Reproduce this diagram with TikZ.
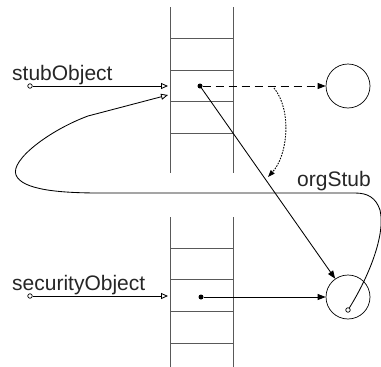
\documentclass[tikz,border=0pt]{standalone}
\usepackage{fontspec}
\setmainfont{Liberation Sans}
\usetikzlibrary{arrows.meta}
\begin{document}
\begin{tikzpicture}[x=1pt,y=-1pt,
  lbl/.style={font=\fontsize{21}{25}\selectfont, inner sep=0pt, anchor=base west, text=black!85},
  stackline/.style={draw=black!65, line width=0.7pt},
  conn/.style={line width=0.85pt},
  openarr/.style={conn, -{Triangle[open,length=7pt,width=6pt]}},
  fillarr/.style={conn, -{Triangle[length=8pt,width=6pt]}},
  port/.style={circle, draw, fill=white, inner sep=0pt, minimum size=4.5pt, line width=0.7pt},
  dotn/.style={circle, fill, inner sep=0pt, minimum size=5pt},
  obj/.style={circle, draw, minimum size=44pt, inner sep=0pt, line width=0.7pt}]
\useasboundingbox (0,0) rectangle (381,367);

% stacks
\foreach \y in {38,70,101,133} \draw[stackline] (170,\y) -- (233,\y);
\draw[stackline] (170,7) -- (170,173);
\draw[stackline] (233,7) -- (233,173);
\foreach \y in {248,279,311,343} \draw[stackline] (170,\y) -- (233,\y);
\draw[stackline] (170,217) -- (170,367);
\draw[stackline] (233,217) -- (233,367);

% labels
\node[lbl] (lstub) at (12,80) {stubObject};
\node[lbl] (lsec) at (12,290) {securityObject};
\node[lbl] (lorg) at (297,186) {orgStub};

% nodes
\node[port] (pstub) at (30,86) {};
\node[port] (psec) at (30,296) {};
\coordinate (inA) at (168,86);
\coordinate (inA2) at (168,95);
\coordinate (inB) at (168,296);
\node[dotn] (cellA) at (200,86) {};
\node[dotn] (cellB) at (201,297) {};
\node[obj] (objA) at (348,86) {};
\node[obj] (objB) at (348,297) {};
\node[port] (orgp) at (348,310) {};
\coordinate (dstart) at (274,88);
\coordinate (dend) at (268,177);

% connectors
\draw[openarr] (pstub) -- (inA);
\draw[openarr] (psec) -- (inB);
\draw[fillarr, dash pattern=on 8pt off 5pt] (cellA) -- (objA);
\draw[fillarr] (cellA) -- (objB);
\draw[fillarr] (cellB) -- (objB);
\draw[line width=0.9pt, dash pattern=on 1.6pt off 1.2pt, -{Triangle[length=7pt,width=5pt]}] (dstart) .. controls (292,110) and (288,155) .. (dend);
\draw[openarr] (orgp) .. controls (368,278) and (386,235) .. (380,210)
  .. controls (376,198) and (368,193) .. (355,193) -- (100,193)
  .. controls (60,193) and (22,190) .. (16,175)
  .. controls (10,160) and (50,130) .. (88,116) -- (inA2);
\end{tikzpicture}
\end{document}
